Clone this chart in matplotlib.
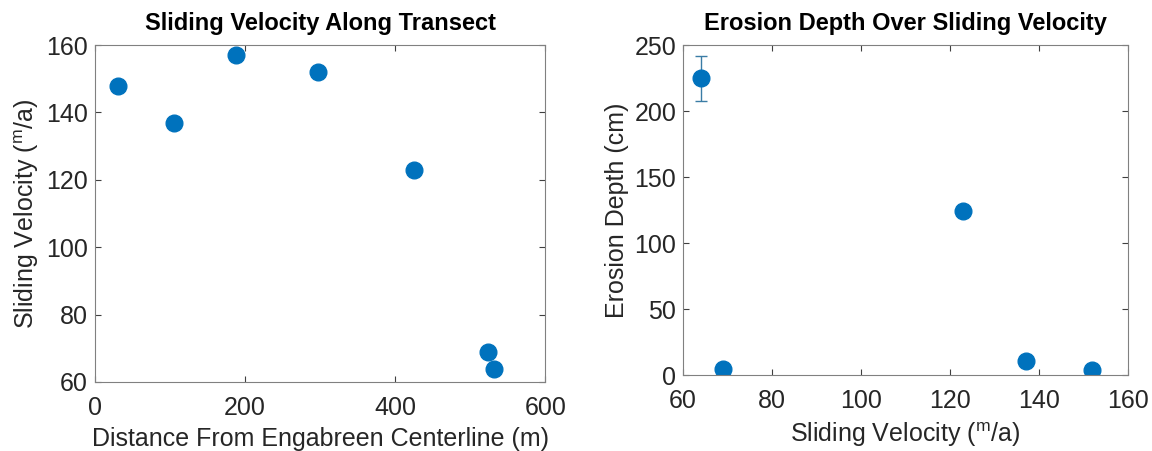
import matplotlib
matplotlib.use('Agg')
import matplotlib.pyplot as plt
import numpy as np

# transect data
distance = [30, 105, 188, 297, 425, 523, 531]
velocity = [148, 137, 157, 152, 123, 69, 64]

# erosion vs velocity
slide_vel = [64, 69, 123, 137, 152]
erosion = [225, 5, 124, 11, 4]
erosion_err = [17, 0, 0, 0, 0]

blue = '#0072BD'
gray = '#262626'

plt.rcParams['font.family'] = ['Liberation Sans', 'DejaVu Sans']
plt.rcParams['mathtext.fontset'] = 'custom'
plt.rcParams['mathtext.rm'] = 'Liberation Sans'

fig = plt.figure(figsize=(11.52, 4.51), dpi=100)
ax1 = fig.add_axes([0.0825, 0.153, 0.391, 0.747])
ax2 = fig.add_axes([0.593, 0.168, 0.386, 0.732])


def matlab_style(ax):
    for s in ax.spines.values():
        s.set_color('#808080')
        s.set_linewidth(0.8)
    ax.tick_params(direction='in', top=True, right=True, length=4,
                   width=0.8, color='#404040', labelcolor=gray, labelsize=18)
    ax.tick_params(axis='x', pad=10)
    ax.tick_params(axis='y', pad=5)


ax1.plot(distance, velocity, 'o', color=blue, markersize=12)
ax1.set_xlim(0, 600)
ax1.set_ylim(60, 160)
ax1.set_xticks([0, 200, 400, 600])
ax1.set_yticks(np.arange(60, 161, 20))
ax1.set_title('Sliding Velocity Along Transect', fontweight='bold', fontsize=17, pad=11)
ax1.set_xlabel('Distance From Engabreen Centerline (m)', color=gray, fontsize=18, labelpad=5)
ax1.set_ylabel(r'Sliding Velocity ($^{\mathrm{m}}$/a)', color=gray, fontsize=18, labelpad=4)
matlab_style(ax1)

ax2.errorbar(slide_vel, erosion, yerr=erosion_err, fmt='o', color=blue,
             markersize=12, ecolor='#3a7ca5', elinewidth=1, capsize=4)
ax2.set_xlim(60, 160)
ax2.set_ylim(0, 250)
ax2.set_xticks(np.arange(60, 161, 20))
ax2.set_yticks(np.arange(0, 251, 50))
ax2.set_title('Erosion Depth Over Sliding Velocity', fontweight='bold', fontsize=17, pad=11)
ax2.set_xlabel(r'Sliding Velocity ($^{\mathrm{m}}$/a)', color=gray, fontsize=18, labelpad=5)
ax2.set_ylabel('Erosion Depth (cm)', color=gray, fontsize=18, labelpad=4)
matlab_style(ax2)

fig.savefig('out.png', dpi=100)
